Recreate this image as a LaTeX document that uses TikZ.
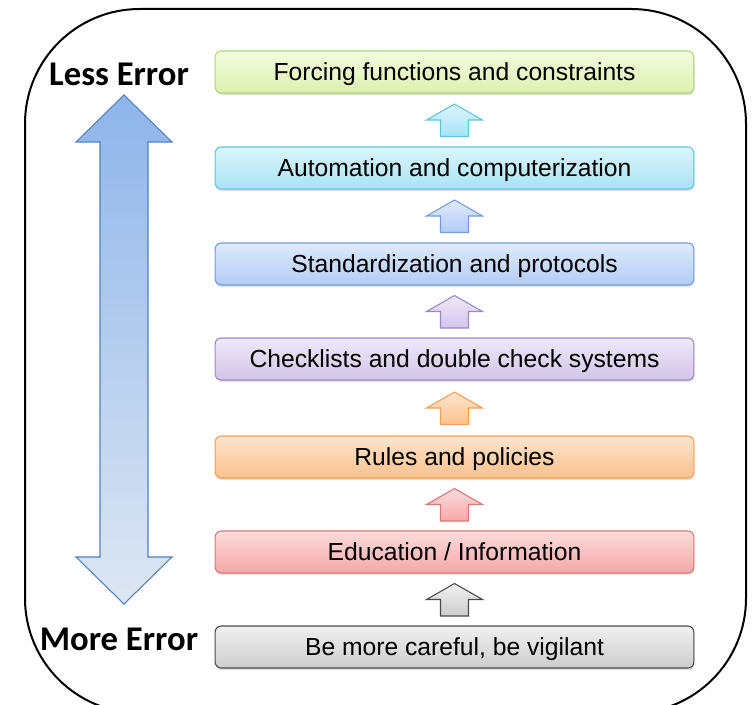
\documentclass[tikz,border=0pt]{standalone}
\usepackage{fontspec}
\setmainfont{Liberation Sans}
\newfontfamily\errfont{Carlito}
\usetikzlibrary{calc,shadows}

% fill (top, bottom) and border of each step
\definecolor{forceT}{HTML}{F3FBE0}\definecolor{forceB}{HTML}{DCF1AE}\definecolor{forceD}{HTML}{AED47A}
\definecolor{autoT}{HTML}{DCF5FC}\definecolor{autoB}{HTML}{A8E3F5}\definecolor{autoD}{HTML}{62C3DF}
\definecolor{stanT}{HTML}{DFEAFC}\definecolor{stanB}{HTML}{B3CCF5}\definecolor{stanD}{HTML}{729DDA}
\definecolor{checT}{HTML}{EFE9F8}\definecolor{checB}{HTML}{D2C5EA}\definecolor{checD}{HTML}{9C88C6}
\definecolor{ruleT}{HTML}{FDE5CE}\definecolor{ruleB}{HTML}{FBC18C}\definecolor{ruleD}{HTML}{F2A058}
\definecolor{educT}{HTML}{FCDCDC}\definecolor{educB}{HTML}{F5A8A8}\definecolor{educD}{HTML}{D8787A}
\definecolor{careT}{HTML}{F0F0F0}\definecolor{careB}{HTML}{CDCDCD}\definecolor{careD}{HTML}{4A4A4A}

\tikzset{
    stepbox/.style={draw, rounded corners=4.5pt, line width=0.8pt,
        minimum width=359pt, minimum height=31.5pt, inner sep=0pt,
        text height=13.3pt, text depth=0pt,
        font=\fontsize{18.5}{22}\selectfont,
        drop shadow={opacity=0.25, shadow xshift=0.6pt, shadow yshift=-1.6pt}},
    tint/.style={top color=#1T, bottom color=#1B, draw=#1D},
    errlabel/.style={font=\errfont\bfseries\fontsize{26}{28}\selectfont, inner sep=0pt},
    bigarrow/.style={draw={rgb,255:red,79;green,129;blue,189}, line width=0.8pt,
        top color={rgb,255:red,142;green,180;blue,234},
        middle color={rgb,255:red,136;green,168;blue,214},
        bottom color={rgb,255:red,222;green,231;blue,242}},
}

% small block arrow pointing up, centred on #1
\newcommand{\steparrow}[2]{%
    \path[tint=#2, line width=0.8pt, shift={(#1)}]
        (-14,16.5) -- (-14,0) -- (-28,0) -- (0,-16) -- (28,0) -- (14,0) -- (14,16.5) -- cycle;}

\begin{document}
\begin{tikzpicture}[x=0.75pt, y=-0.75pt]
    \clip (0,0) rectangle (752,705);

    % outer frame
    \draw[line width=1.5pt, rounded corners=86pt] (25,9) rectangle (746,713);

    % the steps
    \node[stepbox, tint=force] at (454.5, 72)(s1){Forcing functions and constraints};
    \node[stepbox, tint=auto]  at (454.5,168)(s2){Automation and computerization};
    \node[stepbox, tint=stan]  at (454.5,264)(s3){Standardization and protocols};
    \node[stepbox, tint=chec]  at (454.5,359)(s4){Checklists and double check systems};
    \node[stepbox, tint=rule]  at (454.5,457)(s5){Rules and policies};
    \node[stepbox, tint=educ]  at (454.5,552)(s6){Education / Information};
    \node[stepbox, tint=care]  at (454.5,647)(s7){Be more careful, be vigilant};

    \foreach \lo/\hi/\c in {s2/s1/auto, s3/s2/stan, s4/s3/chec, s5/s4/rule, s6/s5/educ, s7/s6/care}{
        \coordinate (\lo-up) at ($(\lo.north)!0.5!(\hi.south)$);
        \steparrow{\lo-up}{\c}
    }

    % error scale on the left
    \path[bigarrow] (124,95) -- (172,142) -- (148,142) -- (148,557) -- (172,557)
        -- (124,604) -- (76,557) -- (100,557) -- (100,142) -- (76,142) -- cycle;
    \node[errlabel] at (119,74)(less){Less Error};
    \node[errlabel] at (119,639)(more){More Error};
\end{tikzpicture}
\end{document}
